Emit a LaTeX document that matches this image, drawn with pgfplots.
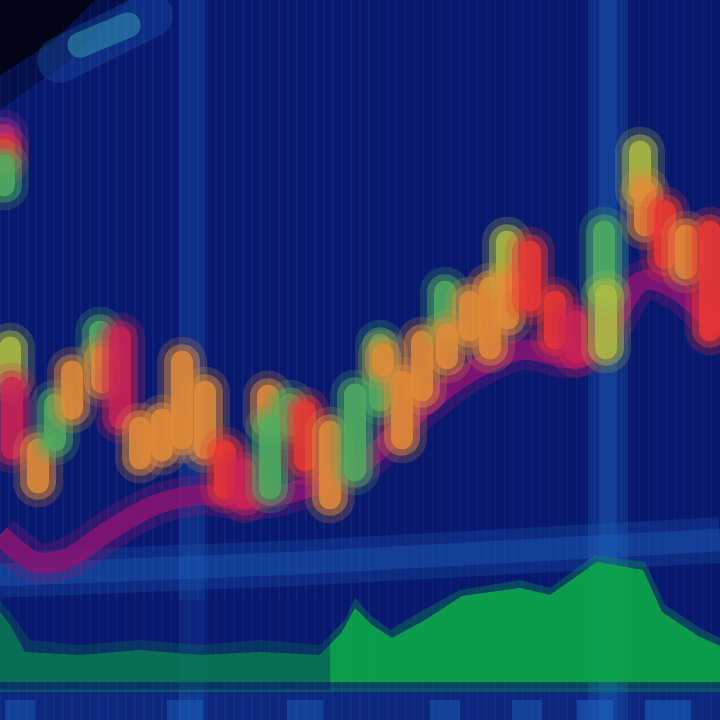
\documentclass[border=0pt]{standalone}
\usepackage{pgfplots}
\pgfplotsset{compat=1.18}
\definecolor{navyBG}{RGB}{8,24,108}
\definecolor{gridC}{RGB}{30,60,160}
\definecolor{bandC}{RGB}{30,100,190}
\definecolor{cOr}{RGB}{228,140,55}
\definecolor{cRd}{RGB}{238,55,50}
\definecolor{cCr}{RGB}{205,35,85}
\definecolor{cGr}{RGB}{80,175,95}
\definecolor{cYg}{RGB}{175,190,65}
\definecolor{cPu}{RGB}{150,40,140}
\definecolor{cMa}{RGB}{140,20,115}
\definecolor{cVol}{RGB}{12,172,72}
\definecolor{cTeal}{RGB}{50,140,170}
\newcommand{\cs}[4]{%
  \addplot[draw=#4, line width=20pt, opacity=0.22, line cap=round] coordinates {(#1,#2) (#1,#3)};
  \addplot[draw=#4, line width=14pt, opacity=0.45, line cap=round] coordinates {(#1,#2) (#1,#3)};
  \addplot[draw=#4, line width=9pt, opacity=0.8, line cap=round] coordinates {(#1,#2) (#1,#3)};
}
\begin{document}
\begin{tikzpicture}
\begin{axis}[
  scale only axis, width=10cm, height=10cm,
  xmin=0, xmax=720, ymin=0, ymax=720, y dir=reverse,
  axis background/.style={fill=navyBG},
  axis line style={draw=none}, tick style={draw=none},
  xtick={0,9,...,720}, ytick=\empty, xticklabels={},
  xmajorgrids, major grid style={draw=gridC, line width=0.4pt, opacity=0.3},
  clip=true,
]
% top-left dark corner
\addplot[fill=black, draw=none, opacity=0.3] coordinates {(0,0) (130,0) (70,60) (0,110)};
\addplot[fill=black, draw=none, opacity=0.7] coordinates {(0,0) (95,0) (55,40) (0,75)};
\addplot[draw=bandC, line width=18pt, opacity=0.3, line cap=round] coordinates {(60,60) (150,15)};
\addplot[draw=cTeal, line width=10pt, opacity=0.6, line cap=round] coordinates {(80,45) (128,25)};
% bright vertical bands
\addplot[draw=bandC, line width=10pt, opacity=0.3] coordinates {(192,0) (192,720)};
\addplot[draw=bandC, line width=16pt, opacity=0.3] coordinates {(608,0) (608,720)};
\addplot[draw=bandC, line width=7pt, opacity=0.3] coordinates {(608,0) (608,720)};
% horizontal band
\addplot[draw=bandC, line width=18pt, opacity=0.25] coordinates {(0,575) (300,563) (720,540)};
\addplot[draw=bandC, line width=9pt, opacity=0.35] coordinates {(0,575) (300,563) (720,540)};
% bottom strip
\addplot[fill=bandC, draw=none, opacity=0.2] coordinates {(0,688) (720,688) (720,720) (0,720)};
\addplot[draw=bandC, line width=12pt, opacity=0.45] coordinates {(20,700) (20,720)};
\addplot[draw=bandC, line width=14pt, opacity=0.45] coordinates {(185,700) (185,720)};
\addplot[draw=bandC, line width=14pt, opacity=0.45] coordinates {(305,700) (305,720)};
\addplot[draw=bandC, line width=12pt, opacity=0.45] coordinates {(445,700) (445,720)};
\addplot[draw=bandC, line width=12pt, opacity=0.45] coordinates {(527,700) (527,720)};
\addplot[draw=bandC, line width=14pt, opacity=0.55] coordinates {(595,700) (595,720)};
\addplot[draw=bandC, line width=18pt, opacity=0.55] coordinates {(668,700) (668,720)};
% volume area
\addplot[fill=cVol, draw=none, opacity=0.3] coordinates {(0,600) (12,615) (30,640) (80,645) (140,640) (200,645) (260,640) (320,645) (345,620) (355,598) (370,615) (390,630) (420,612) (460,590) (520,580) (550,588) (595,555) (645,562) (665,605) (700,628) (720,638) (720,692) (0,692)};
\addplot[fill=cVol, draw=none, opacity=0.85] coordinates {(0,612) (10,625) (25,652) (80,655) (140,650) (200,655) (260,652) (320,655) (342,632) (355,608) (372,625) (392,638) (425,620) (462,596) (520,588) (550,595) (597,562) (643,570) (662,612) (698,636) (720,646) (720,682) (0,682)};
\addplot[fill=navyBG, draw=none, opacity=0.35] coordinates {(0,600) (330,600) (330,690) (0,690)};
% moving average
\addplot[smooth, draw=cMa, line width=16pt, opacity=0.3] coordinates {(0,535) (35,562) (70,557) (110,530) (155,505) (200,495) (250,500) (300,490) (360,465) (420,410) (465,375) (520,350) (570,358) (600,345) (640,282) (680,292) (720,330)};
\addplot[smooth, draw=cMa, line width=8pt, opacity=0.8] coordinates {(0,535) (35,562) (70,557) (110,530) (155,505) (200,495) (250,500) (300,490) (360,465) (420,410) (465,375) (520,350) (570,358) (600,345) (640,282) (680,292) (720,330)};
% candles
\cs{4}{135}{148}{cPu}
\cs{4}{150}{160}{cRd}
\cs{4}{166}{185}{cGr}
\cs{10}{348}{378}{cYg}
\cs{12}{388}{448}{cCr}
\cs{38}{450}{482}{cOr}
\cs{55}{405}{440}{cGr}
\cs{72}{372}{408}{cOr}
\cs{100}{332}{350}{cGr}
\cs{102}{358}{382}{cOr}
\cs{120}{338}{418}{cCr}
\cs{140}{428}{458}{cOr}
\cs{162}{420}{450}{cOr}
\cs{182}{362}{438}{cOr}
\cs{205}{392}{448}{cOr}
\cs{225}{452}{488}{cRd}
\cs{245}{470}{498}{cCr}
\cs{268}{396}{420}{cOr}
\cs{270}{428}{488}{cGr}
\cs{290}{405}{425}{cGr}
\cs{305}{412}{460}{cRd}
\cs{330}{432}{498}{cOr}
\cs{355}{395}{470}{cGr}
\cs{380}{345}{400}{cGr}
\cs{383}{355}{365}{cOr}
\cs{402}{382}{438}{cOr}
\cs{422}{342}{390}{cOr}
\cs{445}{292}{328}{cGr}
\cs{447}{335}{358}{cOr}
\cs{470}{302}{330}{cOr}
\cs{490}{288}{348}{cOr}
\cs{507}{242}{280}{cYg}
\cs{508}{285}{318}{cOr}
\cs{530}{252}{300}{cRd}
\cs{555}{302}{338}{cRd}
\cs{576}{322}{352}{cCr}
\cs{604}{232}{290}{cGr}
\cs{606}{296}{348}{cYg}
\cs{640}{152}{190}{cYg}
\cs{645}{192}{225}{cOr}
\cs{665}{212}{258}{cRd}
\cs{686}{236}{268}{cOr}
\cs{710}{232}{330}{cRd}
\end{axis}
\pgfresetboundingbox
\useasboundingbox (current axis.south west) rectangle (current axis.north east);
\end{tikzpicture}
\end{document}
